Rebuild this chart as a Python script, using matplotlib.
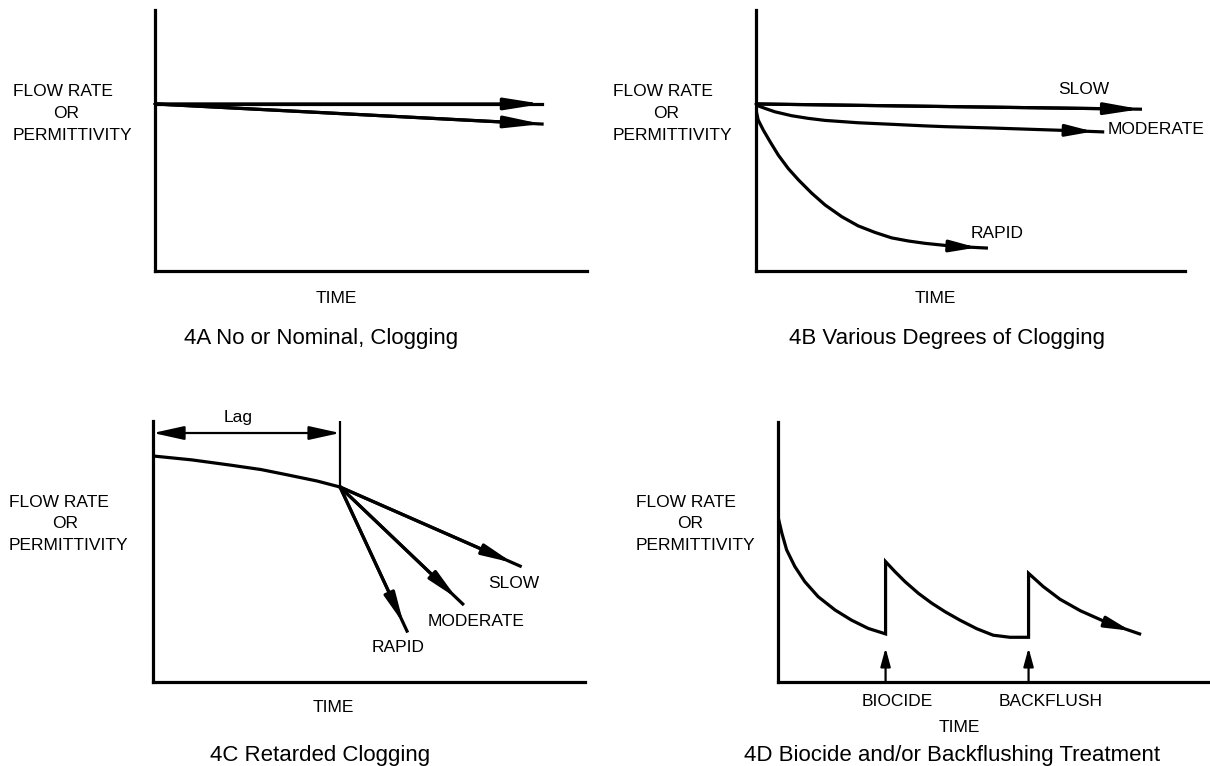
import matplotlib
matplotlib.use('Agg')
import matplotlib.pyplot as plt

plt.rcParams['font.family'] = ['Liberation Sans', 'DejaVu Sans']

W, H = 1210, 766

# --- data (normalised time / flow) ---
# 4A
a_time = [0.0, 0.896]
a_none = [0.64, 0.64]
a_nominal = [0.64, 0.563]

# 4B
b_slow_t = [0.0, 0.896]
b_slow_q = [0.640, 0.620]
b_mod_t = [0.0, 0.021, 0.044, 0.083, 0.121, 0.161, 0.238, 0.317, 0.394, 0.441, 0.548, 0.730, 0.808]
b_mod_q = [0.636, 0.623, 0.610, 0.595, 0.585, 0.577, 0.568, 0.562, 0.556, 0.553, 0.548, 0.538, 0.533]
b_rap_t = [0.0, 0.005, 0.017, 0.033, 0.052, 0.075, 0.099, 0.130, 0.161, 0.200, 0.238,
           0.277, 0.316, 0.355, 0.394, 0.441, 0.490, 0.537]
b_rap_q = [0.617, 0.579, 0.540, 0.495, 0.444, 0.393, 0.349, 0.298, 0.253, 0.208, 0.173,
           0.148, 0.127, 0.115, 0.106, 0.098, 0.092, 0.088]

# 4C
c_lag_t = [0.0, 0.090, 0.179, 0.250, 0.313, 0.380, 0.433]
c_lag_q = [0.866, 0.851, 0.831, 0.814, 0.793, 0.770, 0.747]
c_names = ['RAPID', 'MODERATE', 'SLOW']
c_end_t = [0.588, 0.717, 0.850]
c_end_q = [0.195, 0.299, 0.444]

# 4D
d_seg1_t = [0.0, 0.009, 0.020, 0.039, 0.062, 0.093, 0.132, 0.170, 0.209, 0.249]
d_seg1_q = [0.636, 0.572, 0.508, 0.444, 0.386, 0.328, 0.277, 0.238, 0.206, 0.185]
d_seg2_t = [0.249, 0.271, 0.294, 0.325, 0.356, 0.387, 0.421, 0.460, 0.498, 0.537, 0.580]
d_seg2_q = [0.463, 0.424, 0.386, 0.341, 0.303, 0.270, 0.238, 0.205, 0.180, 0.172, 0.172]
d_seg3_t = [0.580, 0.614, 0.653, 0.700, 0.765, 0.837]
d_seg3_q = [0.418, 0.367, 0.318, 0.274, 0.226, 0.185]
d_events = ['BIOCIDE', 'BACKFLUSH']
d_event_t = [0.249, 0.580]

LW = 2.3
LABEL_FS = 12.5
CAP_FS = 16

fig = plt.figure(figsize=(W / 100, H / 100), dpi=100)


def panel(left, right, top, bottom):
    ax = fig.add_axes([left / W, 1 - bottom / H, (right - left) / W, (bottom - top) / H])
    ax.set_xlim(0, 1)
    ax.set_ylim(0, 1)
    for s in ['top', 'right']:
        ax.spines[s].set_visible(False)
    for s in ['left', 'bottom']:
        ax.spines[s].set_linewidth(LW)
        ax.spines[s].set_capstyle('projecting')
    ax.set_xticks([])
    ax.set_yticks([])
    ax.patch.set_alpha(0)
    return ax


def head(ax, t, q, back=0.0, hl=1.9, hw=0.35):
    # arrowhead pointing along the last segment of a line
    ax.annotate('', xy=(t[-1], q[-1]), xytext=(t[-2], q[-2]),
                arrowprops=dict(arrowstyle='-|>,head_length=%s,head_width=%s' % (hl, hw),
                                color='black', lw=LW, shrinkA=0, shrinkB=back,
                                mutation_scale=10))


def ftext(x, y, s, fs=LABEL_FS, ha='center'):
    fig.text(x / W, 1 - y / H, s, ha=ha, va='center', fontsize=fs)


def ylabel(x_left, x_or, y_mid):
    ftext(x_left, y_mid - 22, 'FLOW RATE', ha='left')
    ftext(x_or, y_mid, 'OR')
    ftext(x_left, y_mid + 22, 'PERMITTIVITY', ha='left')


# 4A
ax = panel(155, 587, 10, 271)
ax.plot(a_time, a_none, color='black', lw=LW)
ax.plot(a_time, a_nominal, color='black', lw=LW)
head(ax, a_time, a_none, hl=2.2)
head(ax, a_time, a_nominal, hl=2.2)
ylabel(13, 66, 113)
ftext(336, 298, 'TIME')
ftext(321, 339, '4A No or Nominal, Clogging', CAP_FS)

# 4B
ax = panel(756, 1185, 10, 271)
ax.plot(b_slow_t, b_slow_q, color='black', lw=LW)
ax.plot(b_mod_t, b_mod_q, color='black', lw=LW)
ax.plot(b_rap_t, b_rap_q, color='black', lw=LW)
head(ax, b_slow_t, b_slow_q, hl=2.1)
head(ax, b_mod_t, b_mod_q, back=7, hl=1.6)
head(ax, b_rap_t, b_rap_q, back=7, hl=1.6)
ftext(1084, 90, 'SLOW')
ftext(1108, 130, 'MODERATE', ha='left')
ftext(971, 233, 'RAPID', ha='left')
ylabel(613, 666, 113)
ftext(935, 298, 'TIME')
ftext(947, 339, '4B Various Degrees of Clogging', CAP_FS)

# 4C
ax = panel(153, 585, 421, 682)
ax.plot(c_lag_t, c_lag_q, color='black', lw=LW)
ax.plot([c_lag_t[-1], c_lag_t[-1]], [c_lag_q[-1], 1.0], color='black', lw=1.6)
ax.annotate('', xy=(0, 0.954), xytext=(c_lag_t[-1], 0.954),
            arrowprops=dict(arrowstyle='<|-|>,head_length=1.9,head_width=0.42', color='black',
                            lw=1.6, shrinkA=0, shrinkB=0, mutation_scale=10))
for t1, q1 in zip(c_end_t, c_end_q):
    bt = [c_lag_t[-1], t1]
    bq = [c_lag_q[-1], q1]
    ax.plot(bt, bq, color='black', lw=LW)
    head(ax, bt, bq, back=6, hl=1.8, hw=0.33)
ftext(238, 418, 'Lag')
ftext(398, 647, c_names[0])
ftext(476, 621, c_names[1])
ftext(514, 583, c_names[2])
ylabel(9, 65, 524)
ftext(333, 708, 'TIME')
ftext(320, 755, '4C Retarded Clogging', CAP_FS)

# 4D
ax = panel(778, 1210, 422, 682)
ax.plot(d_seg1_t + d_seg2_t + d_seg3_t, d_seg1_q + d_seg2_q + d_seg3_q,
        color='black', lw=LW, solid_joinstyle='miter')
head(ax, d_seg3_t, d_seg3_q, back=7, hl=1.5, hw=0.33)
for t in d_event_t:
    ax.annotate('', xy=(t, 0.131), xytext=(t, 0.0),
                arrowprops=dict(arrowstyle='-|>,head_length=1.1,head_width=0.3', color='black',
                                lw=1.6, shrinkA=0, shrinkB=0, mutation_scale=10))
ftext(897, 701, d_events[0])
ftext(1051, 701, d_events[1])
ylabel(636, 690, 524)
ftext(959, 728, 'TIME')
ftext(952, 755, '4D Biocide and/or Backflushing Treatment', CAP_FS)

fig.savefig('out.png', dpi=100, facecolor='white')
